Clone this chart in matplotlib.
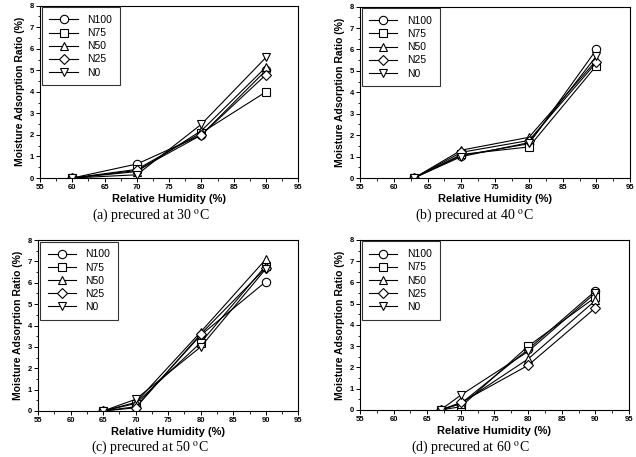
import matplotlib.pyplot as plt
from matplotlib.ticker import MultipleLocator

plt.rcParams['font.family'] = ['Liberation Sans', 'DejaVu Sans']
plt.rcParams['mathtext.fontset'] = 'stix'

names = ['N100', 'N75', 'N50', 'N25', 'N0']
markers = ['o', 's', '^', 'D', 'v']

# relative humidity points per precure temperature
rh_30 = [60, 70, 80, 90]
rh_40 = [63, 70, 80, 90]
rh_50 = [65, 70, 80, 90]
rh_60 = [67, 70, 80, 90]

# moisture adsorption ratio (%), rows follow names
mar_30 = [[0, 0.65, 2.0, 5.0],
          [0, 0.4, 2.1, 4.0],
          [0, 0.3, 2.2, 5.15],
          [0, 0.35, 2.0, 4.8],
          [0, 0.15, 2.5, 5.6]]
mar_40 = [[0, 1.05, 1.6, 6.0],
          [0, 1.1, 1.45, 5.25],
          [0, 1.3, 1.9, 5.5],
          [0, 1.2, 1.75, 5.4],
          [0, 1.0, 1.65, 5.7]]
mar_50 = [[0, 0.2, 3.55, 6.05],
          [0, 0.35, 3.2, 6.8],
          [0, 0.4, 3.7, 7.1],
          [0, 0.15, 3.6, 6.7],
          [0, 0.55, 3.0, 6.65]]
mar_60 = [[0, 0.3, 2.85, 5.6],
          [0, 0.15, 3.0, 5.3],
          [0, 0.3, 2.4, 5.15],
          [0, 0.35, 2.1, 4.8],
          [0, 0.7, 2.75, 5.5]]

captions = [r'(a) precured at 30 $^{\rm o}$C', r'(b) precured at 40 $^{\rm o}$C',
            r'(c) precured at 50 $^{\rm o}$C', r'(d) precured at 60 $^{\rm o}$C']

panels = [
    (rh_30, mar_30, [0.063, 0.6105, 0.406, 0.377], (0.238, 0.528)),
    (rh_40, mar_40, [0.566, 0.6105, 0.425, 0.375], (0.745, 0.528)),
    (rh_50, mar_50, [0.060, 0.1007, 0.409, 0.374], (0.236, 0.021)),
    (rh_60, mar_60, [0.566, 0.103, 0.423, 0.372], (0.74, 0.021)),
]

fig = plt.figure(figsize=(6.36, 4.57), dpi=100)

for (rh, mar, rect, cap_pos), cap in zip(panels, captions):
    ax = fig.add_axes(rect)
    for name, m, vals in zip(names, markers, mar):
        ms = 5.5 if m == 'D' else 6
        ax.plot(rh, vals, color='black', lw=0.8, marker=m, ms=ms,
                mfc='white', mec='black', mew=0.8, label=name)
    ax.set_xlim(55, 95)
    ax.set_ylim(0, 8)
    ax.xaxis.set_major_locator(MultipleLocator(5))
    ax.xaxis.set_minor_locator(MultipleLocator(2.5))
    ax.yaxis.set_major_locator(MultipleLocator(1))
    ax.yaxis.set_minor_locator(MultipleLocator(0.5))
    ax.tick_params(which='major', direction='out', length=3, width=0.7,
                   labelsize=5.5, pad=1.5)
    ax.tick_params(which='minor', direction='out', length=1.8, width=0.6)
    for lab in ax.get_xticklabels() + ax.get_yticklabels():
        lab.set_fontweight('bold')
    for sp in ax.spines.values():
        sp.set_linewidth(0.8)
    ax.set_xlabel('Relative Humidity (%)', fontsize=8, fontweight='bold', labelpad=2)
    ax.set_ylabel('Moisture Adsorption Ratio (%)', fontsize=7.5, fontweight='bold', labelpad=3)
    leg = ax.legend(loc='upper left', fontsize=7.5, frameon=True, fancybox=False,
                    edgecolor='black', handlelength=2.7, handletextpad=0.9,
                    labelspacing=0.3, borderaxespad=0.15, borderpad=0.75)
    leg.get_frame().set_linewidth(0.8)
    fig.text(cap_pos[0], cap_pos[1], cap, ha='center', va='center',
             fontsize=10, family='Liberation Serif')

fig.savefig('out.png', dpi=100)
